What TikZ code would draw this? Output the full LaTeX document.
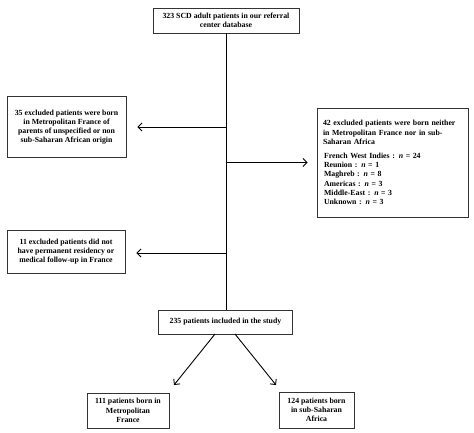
\documentclass[tikz,border=0pt]{standalone}
\usepackage{fontspec}
\setmainfont{Liberation Serif}
\usetikzlibrary{arrows.meta,calc}
\begin{document}
\begin{tikzpicture}[x=1pt,y=-1pt,
  box/.style={draw=black!80,line width=0.8pt,inner sep=2pt,align=center,
    font=\fontsize{7.8}{9.2}\selectfont\bfseries},
  conn/.style={line width=0.9pt},
  arr/.style={line width=0.9pt,-{Straight Barb[length=4pt,width=8pt]}}]
\fill[white] (0,0) rectangle (474,432);
\useasboundingbox (0,0) rectangle (474,432);
\node[box,minimum width=146pt,minimum height=25pt] (top) at (226,20.5)
  {323 SCD adult patients in our referral\\center database};
\node[box,minimum width=119pt,minimum height=61pt] (l1) at (66.5,127)
  {35 excluded patients were born\\in Metropolitan France of\\parents of unspecified or non\\sub-Saharan African origin};
\node[box,minimum width=151pt,minimum height=109pt,align=left,text width=141pt] (r1) at (392.5,162.5)
  {\hspace*{1pt}42 excluded patients were born neither\\\hspace*{1pt}in Metropolitan France nor in sub-\\\hspace*{1pt}Saharan Africa\\[5pt]
  \hspace*{2pt}French West Indies : \textit{n} = 24\\
  \hspace*{2pt}Reunion : \textit{n} = 1\\
  \hspace*{2pt}Maghreb : \textit{n} = 8\\
  \hspace*{2pt}Americas : \textit{n} = 3\\
  \hspace*{2pt}Middle-East : \textit{n} = 3\\
  \hspace*{2pt}Unknown : \textit{n} = 3\\[3pt]};
\node[box,minimum width=118pt,minimum height=43pt] (l2) at (66,251.5)
  {11 excluded patients did not\\have permanent residency or\\medical follow-up in France};
\node[box,minimum width=134pt,minimum height=24pt] (mid) at (225.5,322)
  {235 patients included in the study};
\node[box,minimum width=82pt,minimum height=35pt] (b1) at (128,410.5)
  {111 patients born in\\Metropolitan\\France};
\node[box,minimum width=75pt,minimum height=36pt] (b2) at (316.5,410)
  {124 patients born\\in sub-Saharan\\Africa};
\draw[conn] (top.south) -- (top.south |- mid.north);
\draw[arr,shorten >=11pt] (top.south |- l1.east) -- (l1.east);
\draw[arr,shorten >=9pt] (top.south |- r1.west) -- (r1.west);
\draw[arr,shorten >=11pt] (top.south |- 0,253) -- (l2.east |- 0,253);
\coordinate (d1) at (174,385);
\coordinate (d2) at (276,385);
\draw[arr] (215,334) -- (d1);
\draw[arr] (235,334) -- (d2);
\end{tikzpicture}
\end{document}
